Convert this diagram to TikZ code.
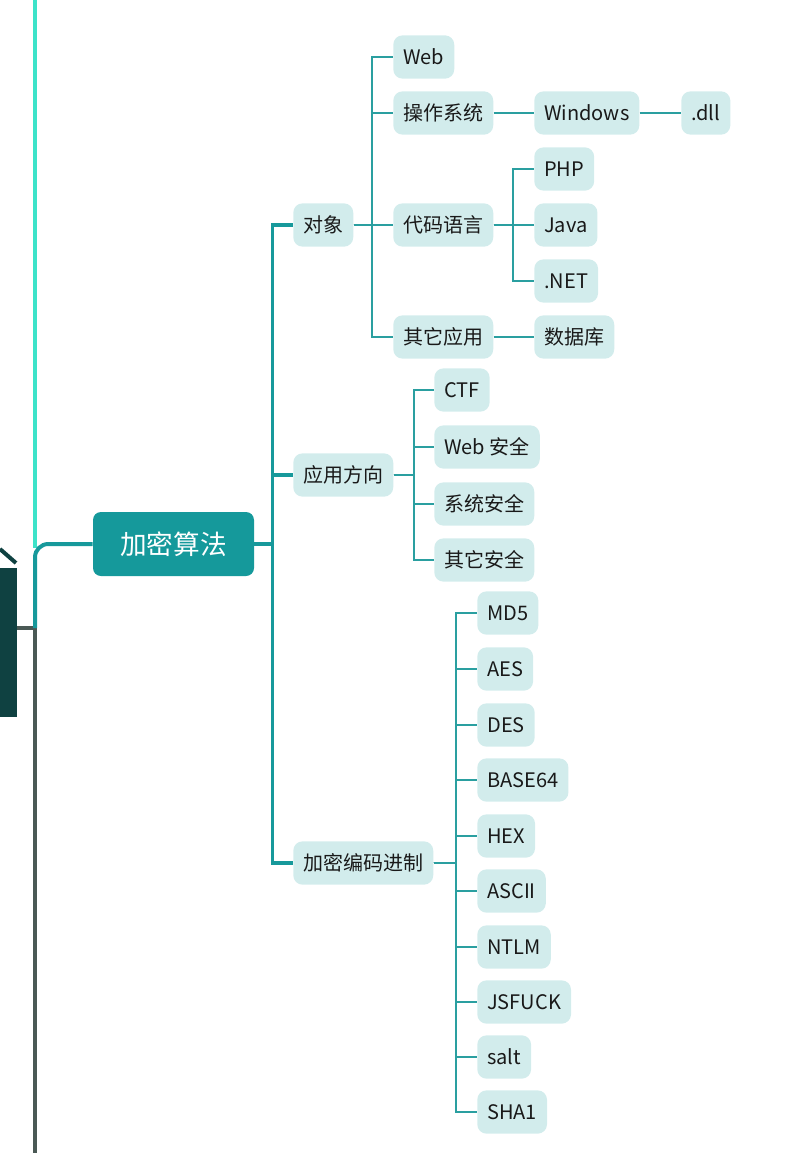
\documentclass[tikz,border=0pt]{standalone}
\usepackage{fontspec}
\setmainfont{Noto Sans CJK SC}
\definecolor{rootfill}{HTML}{15999B}
\definecolor{leaffill}{HTML}{D2ECEC}
\definecolor{linkcol}{HTML}{2A9FA0}
\definecolor{trunkcol}{HTML}{17999B}
\definecolor{cyanline}{HTML}{3DE3C9}
\definecolor{greyline}{HTML}{4A5955}
\definecolor{darkbox}{HTML}{0F4141}
\tikzset{
  rootnode/.style={fill=rootfill, text=white, rounded corners=6pt, minimum width=120.75pt,
    minimum height=48pt, font=\fontsize{20}{24}\selectfont},
  mapnode/.style={fill=leaffill, text=black!90, rounded corners=7pt, minimum height=32.5pt,
    inner xsep=7.5pt, anchor=west, font=\fontsize{15}{18}\selectfont},
  trunk/.style={draw=trunkcol, line width=2.3pt},
  link/.style={draw=linkcol, line width=1.1pt},
}
\begin{document}
\begin{tikzpicture}[x=0.75pt,y=-0.75pt]
  \useasboundingbox (0,0) rectangle (794,1153);
  % left part of the map
  \fill[darkbox] (0,568) rectangle (17,717);
  \draw[darkbox, line width=3pt] (0,549) -- (16,563);
  \coordinate (topend) at (35,0);
  \coordinate (bend) at (35,548);
  \coordinate (hub) at (35,628);
  \coordinate (centre) at (17,628);
  \coordinate (bottomend) at (35,1153);
  \draw[cyanline, line width=3pt] (topend) -- (bend);
  \draw[greyline, line width=3pt] (centre) -- (hub) -- (bottomend);
  \node[rootnode] (root) at (173.5,544) {加密算法};
  \draw[trunkcol, line width=3pt, rounded corners=10pt] (root.west) -| (hub);
  % first level
  \node[mapnode] (obj) at (293,225) {对象};
  \node[mapnode] (use) at (293,475) {应用方向};
  \node[mapnode] (enc) at (293,863) {加密编码进制};
  \foreach \n in {obj,use,enc} \draw[trunk] (root.east) -- ++(18,0) |- (\n.west);
  % objects
  \coordinate (jobj) at (372,225);
  \foreach \n/\y/\t in {web/57/Web, os/113/操作系统, lang/225/代码语言, other/337/其它应用}{
    \node[mapnode] (\n) at (393,\y) {\t};
    \draw[link] (obj.east) -- (jobj) |- (\n.west);
  }
  \node[mapnode] (win) at (534,113) {Windows};
  \node[mapnode] (dll) at (681,113) {.dll};
  \draw[link] (os.east) -- (win.west);
  \draw[link] (win.east) -- (dll.west);
  \coordinate (jlang) at (513,225);
  \foreach \n/\y/\t in {php/169/PHP, java/225/Java, net/281/.NET}{
    \node[mapnode] (\n) at (534,\y) {\t};
    \draw[link] (lang.east) -- (jlang) |- (\n.west);
  }
  \node[mapnode] (db) at (534,337) {数据库};
  \draw[link] (other.east) -- (db.west);
  % directions
  \coordinate (juse) at (414,475);
  \foreach \n/\y/\t in {ctf/390/CTF, websec/447/Web 安全, syssec/504/系统安全, othersec/560/其它安全}{
    \node[mapnode] (\n) at (434,\y) {\t};
    \draw[link] (use.east) -- (juse) |- (\n.west);
  }
  % encodings
  \coordinate (jenc) at (456,863);
  \foreach \n/\y/\t in {md/613/MD5, aes/669/AES, des/725/DES, base/780/BASE64, hex/836/HEX,
      ascii/891/ASCII, ntlm/947/NTLM, jsf/1002/JSFUCK, salt/1057/salt, sha/1112/SHA1}{
    \node[mapnode] (\n) at (477,\y) {\t};
    \draw[link] (enc.east) -- (jenc) |- (\n.west);
  }
\end{tikzpicture}
\end{document}
